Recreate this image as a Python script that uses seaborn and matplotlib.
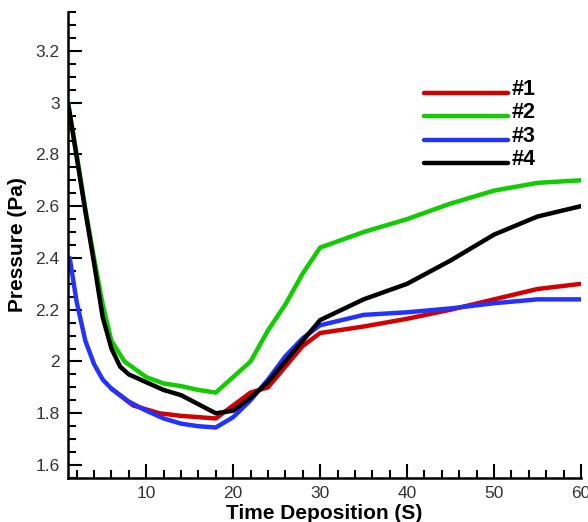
import pandas as pd
import matplotlib
matplotlib.use("Agg")
import matplotlib.pyplot as plt
from matplotlib.ticker import MultipleLocator
import seaborn as sns

# data
x1 = [6, 8.5, 11.5, 14, 16, 18, 20, 22, 24, 26, 28, 30, 35, 40, 45, 50, 55, 60]
y1 = [1.895, 1.83, 1.80, 1.79, 1.785, 1.78, 1.83, 1.88, 1.90, 1.98, 2.06, 2.11,
      2.135, 2.165, 2.20, 2.24, 2.28, 2.30]

x2 = [1, 2, 3, 4, 5, 6, 7.5, 10, 12, 14, 16, 18, 20, 22, 24, 26, 28, 30,
      35, 40, 45, 50, 55, 60]
y2 = [3.0, 2.80, 2.59, 2.40, 2.22, 2.08, 2.00, 1.94, 1.915, 1.905, 1.89, 1.88,
      1.94, 2.0, 2.12, 2.22, 2.34, 2.44, 2.50, 2.55, 2.61, 2.66, 2.69, 2.70]

x3 = [1.2, 2, 3, 4, 5, 6, 8, 10, 12, 14, 16, 18, 20, 22, 24, 26, 28, 30,
      35, 40, 45, 50, 55, 60]
y3 = [2.40, 2.23, 2.08, 1.99, 1.93, 1.895, 1.845, 1.81, 1.78, 1.76, 1.75, 1.745,
      1.785, 1.85, 1.93, 2.02, 2.09, 2.14, 2.18, 2.19, 2.205, 2.225, 2.24, 2.24]

x4 = [1, 2, 3, 4, 5, 6, 7, 8, 10, 12, 14, 16, 18, 20, 22, 24, 26, 28, 30,
      35, 40, 45, 50, 55, 60]
y4 = [3.0, 2.79, 2.58, 2.38, 2.17, 2.05, 1.98, 1.95, 1.92, 1.89, 1.87, 1.835,
      1.80, 1.81, 1.86, 1.92, 2.00, 2.08, 2.16, 2.24, 2.30, 2.39, 2.49, 2.56, 2.60]

labels = ["#1", "#2", "#3", "#4"]
colors = ["#d40000", "#11cc00", "#2233ff", "#000000"]

frames = []
for lab, xs, ys in zip(labels, [x1, x2, x3, x4], [y1, y2, y3, y4]):
    frames.append(pd.DataFrame({"t": xs, "p": ys, "s": lab}))
df = pd.concat(frames, ignore_index=True)

sns.set_style("white")
plt.rcParams["font.family"] = ["Liberation Sans", "DejaVu Sans"]

fig = plt.figure(figsize=(5.88, 5.22), dpi=100)
ax = fig.add_axes([0.1156, 0.0843, 0.8724, 0.8927])

sns.lineplot(data=df, x="t", y="p", hue="s", palette=dict(zip(labels, colors)),
             estimator=None, sort=False, linewidth=3.2, ax=ax)

ax.set_xlim(1, 60)
ax.set_ylim(1.55, 3.35)
ax.xaxis.set_major_locator(MultipleLocator(10))
ax.xaxis.set_minor_locator(MultipleLocator(2))
ax.yaxis.set_major_locator(MultipleLocator(0.2))
ax.yaxis.set_minor_locator(MultipleLocator(0.05))
ax.set_yticks([1.6, 1.8, 2.0, 2.2, 2.4, 2.6, 2.8, 3.0, 3.2])
ax.set_yticklabels(["1.6", "1.8", "2", "2.2", "2.4", "2.6", "2.8", "3", "3.2"])
ax.set_xticks([10, 20, 30, 40, 50, 60])

ax.tick_params(which="both", bottom=True, left=True, top=False, right=False,
               direction="in", width=1.5, color="black")
ax.tick_params(which="major", length=10, labelsize=12.5, labelcolor="#333333",
               pad=6)
ax.tick_params(which="minor", length=6)
for side in ["top", "right"]:
    ax.spines[side].set_visible(False)
for side in ["left", "bottom"]:
    ax.spines[side].set_linewidth(1.8)
    ax.spines[side].set_color("black")

ax.set_xlabel("Time Deposition (S)", fontsize=15, fontweight="bold",
              labelpad=2, color="black")
ax.set_ylabel("Pressure (Pa)", fontsize=15, fontweight="bold", labelpad=6,
              color="black")

leg = ax.legend(loc="upper left", bbox_to_anchor=(0.695, 0.857), frameon=False,
                handlelength=3.9, handletextpad=0.15, labelspacing=0.12,
                borderpad=0, borderaxespad=0,
                prop={"weight": "bold", "size": 15.5})
for text in leg.get_texts():
    text.set_color("black")
for line in leg.get_lines():
    line.set_linewidth(3.2)
    line.set_ydata([y - 4 for y in line.get_ydata()])

fig.savefig("out.png", dpi=100)
